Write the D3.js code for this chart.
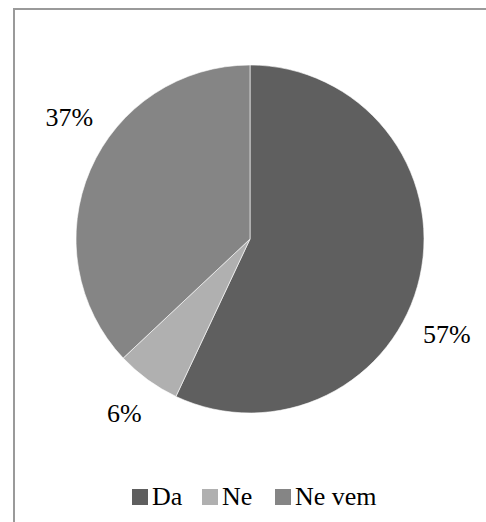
<!DOCTYPE html>
<html>
<head>
<meta charset="utf-8">
<script src="https://cdn.jsdelivr.net/npm/d3@7"></script>
</head>
<body style="margin:0">
<svg id="chart" width="486" height="522" style="display:block;font-family:'Liberation Serif'"></svg>
<script>
// Survey answers and their shares (percent)
const categories = ["Da", "Ne", "Ne vem"];
const values = [57, 6, 37];
const colors = ["#5f5f5f", "#b0b0b0", "#858585"];

const FONT = "Liberation Serif";
const svg = d3.select("#chart");

// chart area frame (runs past the right and bottom edges)
svg.append("rect")
  .attr("x", 14).attr("y", 9)
  .attr("width", 500).attr("height", 540)
  .attr("fill", "#fff")
  .attr("stroke", "#9a9a9a")
  .attr("stroke-width", 2);

const cx = 250, cy = 239, r = 174;

const pie = d3.pie().sort(null).value(d => d.value);
const arcs = pie(categories.map((c, i) => ({ name: c, value: values[i], color: colors[i] })));
const arc = d3.arc().innerRadius(0).outerRadius(r);

const g = svg.append("g").attr("transform", `translate(${cx},${cy})`);
g.selectAll("path")
  .data(arcs)
  .join("path")
  .attr("d", arc)
  .attr("fill", d => d.data.color)
  .attr("stroke", "#ffffff")
  .attr("stroke-width", 0.6);

// outside percentage labels: placed along the slice's mid-angle, then nudged
const labelOffset = [
  { k: 1.2, dx: -7, dy: 49 },
  { k: 1.2, dx: -3, dy: 5 },
  { k: 1.2, dx: 11, dy: -39 }
];
g.selectAll("text.lbl")
  .data(arcs)
  .join("text")
  .attr("class", "lbl")
  .each(function (d, i) {
    const a = (d.startAngle + d.endAngle) / 2;
    const lr = r * labelOffset[i].k;
    d3.select(this)
      .attr("x", Math.sin(a) * lr + labelOffset[i].dx)
      .attr("y", -Math.cos(a) * lr + labelOffset[i].dy + 9);
  })
  .attr("text-anchor", "middle")
  .attr("font-family", FONT)
  .style("font-family", FONT)
  .style("font-size", "26px")
  .attr("fill", "#000")
  .text(d => d.data.value + "%");

// legend
const legend = svg.append("g").attr("transform", "translate(0,505)");
const legendX = [132, 202, 275];
const items = legend.selectAll("g")
  .data(categories)
  .join("g")
  .attr("transform", (d, i) => `translate(${legendX[i]},0)`);
items.append("rect")
  .attr("x", 0).attr("y", -16)
  .attr("width", 16).attr("height", 16)
  .attr("fill", (d, i) => colors[i]);
items.append("text")
  .attr("x", 20).attr("y", 0)
  .attr("font-family", FONT)
  .style("font-family", FONT)
  .style("font-size", "26px")
  .attr("fill", "#000")
  .text(d => d);
</script>
</body>
</html>
